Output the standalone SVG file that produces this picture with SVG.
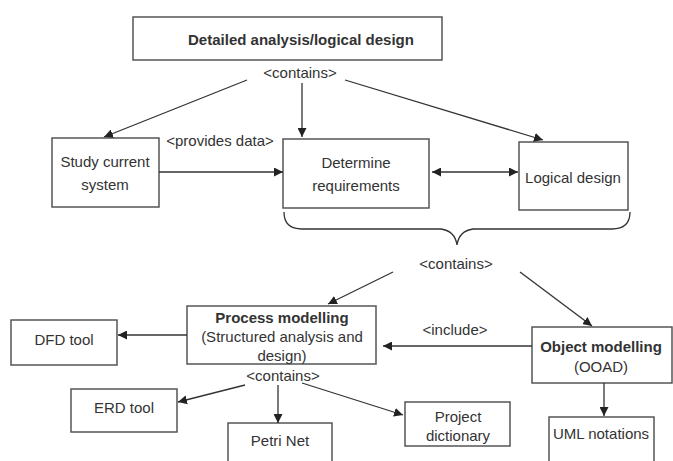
<svg xmlns="http://www.w3.org/2000/svg" width="673" height="461" viewBox="0 0 673 461">
<defs>
<marker id="ah" viewBox="0 0 10 10" refX="10" refY="5" markerWidth="9" markerHeight="9" markerUnits="userSpaceOnUse" orient="auto-start-reverse"><path d="M0,0 L10,5 L0,10 z" fill="#222"/></marker>
<style>
.box{fill:#fff;stroke:#555;stroke-width:1.5}
.t{font-family:"Liberation Sans",Arial,sans-serif;font-size:15px;fill:#333;text-anchor:middle}
.b{font-weight:bold}
.c line,.c path.l{stroke:#333;stroke-width:1.3;fill:none}
</style>
</defs>
<rect width="673" height="461" fill="#fff"/>
<g id="n-top"><rect class="box" x="133" y="17" width="309" height="43"/><text class="t b" x="301" y="45">Detailed analysis/logical design</text></g>
<text class="t" x="300" y="78">&lt;contains&gt;</text>
<g id="n-study"><rect class="box" x="52" y="138" width="107" height="69"/><text class="t" x="105" y="167">Study current</text><text class="t" x="105" y="190">system</text></g>
<g id="n-determine"><rect class="box" x="283" y="139" width="146" height="69"/><text class="t" x="356" y="168">Determine</text><text class="t" x="356" y="191">requirements</text></g>
<g id="n-logical"><rect class="box" x="519" y="142" width="109" height="68"/><text class="t" x="573" y="183">Logical design</text></g>
<text class="t" x="220" y="146">&lt;provides data&gt;</text>
<text class="t" x="456" y="269">&lt;contains&gt;</text>
<g id="n-process"><rect class="box" x="187" y="306" width="189" height="58"/><text class="t b" x="282" y="323">Process modelling</text><text class="t" x="282" y="342">(Structured analysis and</text><text class="t" x="282" y="361">design)</text></g>
<text class="t" x="283" y="381">&lt;contains&gt;</text>
<g id="n-object"><rect class="box" x="532" y="327" width="140" height="56"/><text class="t b" x="601" y="352">Object modelling</text><text class="t" x="601" y="372">(OOAD)</text></g>
<text class="t" x="455" y="335">&lt;include&gt;</text>
<g id="n-dfd"><rect class="box" x="11" y="320" width="106" height="45"/><text class="t" x="64" y="345">DFD tool</text></g>
<g id="n-erd"><rect class="box" x="71" y="389" width="106" height="43"/><text class="t" x="124" y="413">ERD tool</text></g>
<g id="n-petri"><rect class="box" x="228" y="423" width="104" height="45"/><text class="t" x="280" y="446">Petri Net</text></g>
<g id="n-project"><rect class="box" x="405" y="402" width="105" height="44"/><text class="t" x="458" y="422">Project</text><text class="t" x="458" y="441">dictionary</text></g>
<g id="n-uml"><rect class="box" x="549" y="417" width="105" height="50"/><text class="t" x="601" y="439">UML notations</text></g>
<g id="connectors" class="c">
<line x1="247" y1="80" x2="104" y2="137" marker-end="url(#ah)"/>
<line x1="302" y1="83" x2="302" y2="137" marker-end="url(#ah)"/>
<line x1="345" y1="80" x2="543" y2="140" marker-end="url(#ah)"/>
<line x1="159" y1="172" x2="283" y2="172" marker-end="url(#ah)"/>
<line x1="432" y1="172" x2="518" y2="172" marker-start="url(#ah)" marker-end="url(#ah)"/>
<path class="l" d="M284,212 Q284,229 302,229 L441,229 Q455,231 457,245 Q459,231 473,229 L612,229 Q630,229 630,212"/>
<line x1="393" y1="272" x2="328" y2="304" marker-end="url(#ah)"/>
<line x1="520" y1="272" x2="592" y2="326" marker-end="url(#ah)"/>
<line x1="532" y1="346" x2="383" y2="346" marker-end="url(#ah)"/>
<line x1="187" y1="335" x2="118" y2="335" marker-end="url(#ah)"/>
<line x1="245" y1="385" x2="178" y2="402" marker-end="url(#ah)"/>
<line x1="278" y1="385" x2="278" y2="423" marker-end="url(#ah)"/>
<line x1="302" y1="383" x2="403" y2="415" marker-end="url(#ah)"/>
<line x1="604" y1="383" x2="604" y2="416" marker-end="url(#ah)"/>
</g>
</svg>
